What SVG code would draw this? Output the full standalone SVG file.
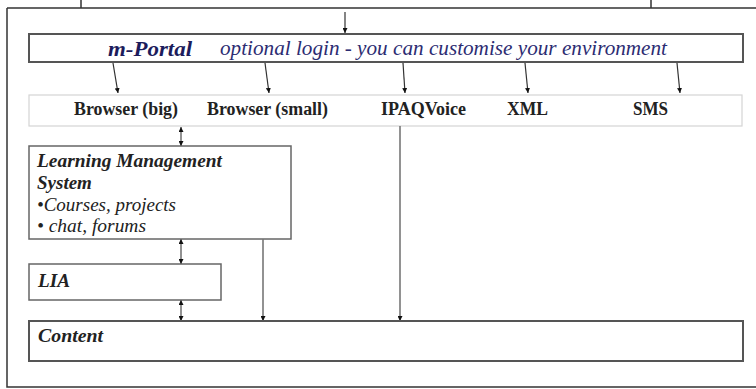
<svg xmlns="http://www.w3.org/2000/svg" width="756" height="389" viewBox="0 0 756 389">
<style>
.frame{fill:none;stroke:#333;stroke-width:1.5}
.box{fill:#fff;stroke:#666;stroke-width:1.5}
.boxd{fill:#fff;stroke:#555;stroke-width:2}
.row{fill:#fff;stroke:#d4d4d4;stroke-width:1.2}
.c{fill:none;stroke:#333;stroke-width:1.2}
.g{fill:none;stroke:#777;stroke-width:1.6}
text{fill:#222}
.b{font-weight:bold}
.bi{font-weight:bold;font-style:italic}
.i{font-style:italic}
.navy{fill:#1c1c5c}
.navy2{fill:#2c2c72}
</style>
<defs>
<marker id="ah" viewBox="0 0 6 6" refX="6" refY="3" markerWidth="5" markerHeight="5" orient="auto-start-reverse" markerUnits="userSpaceOnUse">
<path d="M0,0 L6,3 L0,6 Z" fill="#111"/>
</marker>
</defs>
<rect width="756" height="389" fill="#fff"/>
<path class="frame" d="M81,0 V8 M651,0 V8 M7,8 H756 M7,8 V387 H756"/>
<g font-family="Liberation Serif, DejaVu Serif, serif">
<g id="mportal">
<rect class="boxd" x="29" y="34" width="714" height="28"/>
<text class="bi navy" x="108" y="56" font-size="22" textLength="84" lengthAdjust="spacingAndGlyphs">m-Portal</text>
<text class="i navy2" x="220" y="55" font-size="21" textLength="447" lengthAdjust="spacingAndGlyphs">optional login - you can customise your environment</text>
</g>
<g id="browsers">
<rect class="row" x="29" y="95" width="713" height="31"/>
<text class="b" x="74" y="115" font-size="18" textLength="104" lengthAdjust="spacingAndGlyphs">Browser (big)</text>
<text class="b" x="207" y="115" font-size="18" textLength="121" lengthAdjust="spacingAndGlyphs">Browser (small)</text>
<text class="b" x="381" y="115" font-size="18" textLength="85" lengthAdjust="spacingAndGlyphs">IPAQVoice</text>
<text class="b" x="507" y="115" font-size="18" textLength="41" lengthAdjust="spacingAndGlyphs">XML</text>
<text class="b" x="633" y="115" font-size="18" textLength="35" lengthAdjust="spacingAndGlyphs">SMS</text>
</g>
<g id="lms">
<rect class="box" x="29" y="146" width="262" height="93"/>
<text class="bi" x="37" y="167" font-size="19" textLength="185" lengthAdjust="spacingAndGlyphs">Learning Management</text>
<text class="bi" x="37" y="189" font-size="19">System</text>
<text class="i" x="37" y="211" font-size="18" textLength="139" lengthAdjust="spacingAndGlyphs">•Courses, projects</text>
<text class="i" x="37" y="232" font-size="18" textLength="109" lengthAdjust="spacingAndGlyphs">• chat, forums</text>
</g>
<g id="lia">
<rect class="box" x="29" y="264" width="192" height="36"/>
<text class="bi" x="38" y="287" font-size="19" textLength="32" lengthAdjust="spacingAndGlyphs">LIA</text>
</g>
<g id="content">
<rect class="boxd" x="29" y="321" width="714" height="40"/>
<text class="bi" x="38" y="342" font-size="19" textLength="65" lengthAdjust="spacingAndGlyphs">Content</text>
</g>
</g>
<g id="connectors">
<line class="c" x1="345" y1="12" x2="345" y2="33" marker-end="url(#ah)"/>
<line class="c" x1="113" y1="63" x2="118" y2="93" marker-end="url(#ah)"/>
<line class="c" x1="265" y1="63" x2="269" y2="93" marker-end="url(#ah)"/>
<line class="c" x1="403" y1="63" x2="405" y2="93" marker-end="url(#ah)"/>
<line class="c" x1="525" y1="63" x2="528" y2="93" marker-end="url(#ah)"/>
<line class="c" x1="677" y1="63" x2="680" y2="93" marker-end="url(#ah)"/>
<line class="g" x1="181" y1="127" x2="181" y2="146" marker-start="url(#ah)" marker-end="url(#ah)"/>
<line class="g" x1="181" y1="239" x2="181" y2="264" marker-start="url(#ah)" marker-end="url(#ah)"/>
<line class="g" x1="181" y1="300" x2="181" y2="321" marker-start="url(#ah)" marker-end="url(#ah)"/>
<line class="g" x1="263" y1="239" x2="263" y2="321" marker-end="url(#ah)"/>
<line class="g" x1="400" y1="126" x2="400" y2="321" marker-end="url(#ah)"/>
</g>
</svg>
